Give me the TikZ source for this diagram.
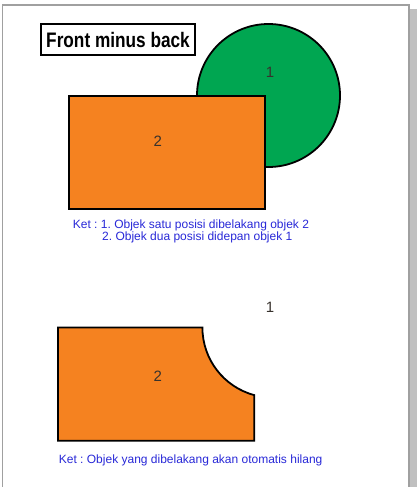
\documentclass[tikz,border=0pt]{standalone}
\usepackage{fontspec}
\setmainfont{Liberation Sans}
\usepackage{graphicx}
\definecolor{shapeorange}{RGB}{245,130,32}
\definecolor{shapegreen}{RGB}{0,166,81}
\definecolor{notebl}{RGB}{40,40,215}
\definecolor{labelgray}{RGB}{55,50,45}
\definecolor{frameg}{RGB}{160,160,160}
\definecolor{shadowg}{RGB}{192,192,192}
\tikzset{
  shapeline/.style={draw=black, line width=1.8pt},
  numlabel/.style={inner sep=0pt, font=\fontsize{15}{17}\selectfont, text=labelgray},
  note/.style={inner sep=0pt, anchor=west, font=\fontsize{12}{14}\selectfont\frenchspacing, text=notebl},
}
\begin{document}
\frenchspacing
\begin{tikzpicture}[x=1pt,y=-1pt]
\useasboundingbox (0,0) rectangle (418,487);
% page frame
\fill[shadowg] (410,9) rectangle (417,487);
\draw[frameg, line width=1.3pt] (2.7,487) -- (2.7,5) -- (409,5) -- (409,487);
% title
\node[draw=black, line width=1.8pt, minimum width=154pt, minimum height=31pt, inner sep=0pt] (title) at (118,39.5)
  {\scalebox{0.82}[1]{\fontsize{21}{24}\selectfont\bfseries Front minus back}};
% top: circle behind rectangle
\path[shapeline, fill=shapegreen] (268.5,95.5) circle[radius=71.5];
\node[numlabel] (one) at (270,72) {1};
\path[shapeline, fill=shapeorange] (69,96) rectangle (265,209);
\node[numlabel] (two) at (157.7,141.7) {2};
\node[note] (ketA) at (72.7,225.7) {Ket : 1. Objek satu posisi dibelakang objek 2};
\node[note] (ketB) at (102,237.3) {2. Objek dua posisi didepan objek 1};
% bottom: result
\node[numlabel] (oneB) at (270,307.3) {1};
\path[shapeline, fill=shapeorange, line join=miter]
  (58,327.5) -- (202.4,327.5) arc[start angle=180, end angle=105, radius=70]
  -- (254.3,440.7) -- (58,440.7) -- cycle;
\node[numlabel] (twoB) at (157.7,376.7) {2};
\node[note] (ketC) at (58.7,460.7) {Ket : Objek yang dibelakang akan otomatis hilang};
\end{tikzpicture}
\end{document}
